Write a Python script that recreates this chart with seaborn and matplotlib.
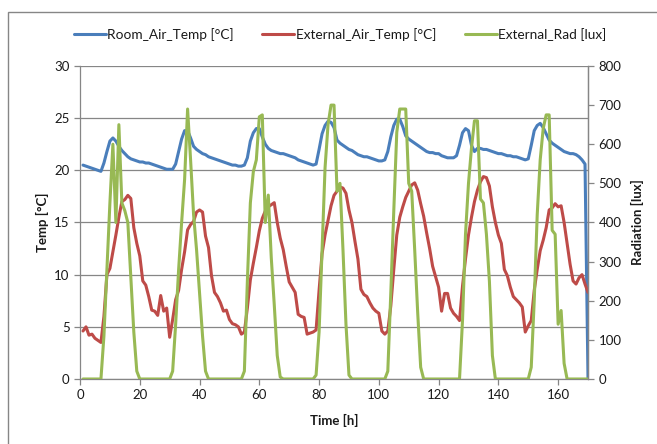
import pandas as pd
import seaborn as sns
import matplotlib.pyplot as plt
from matplotlib.patches import Rectangle

# hourly readings, t = 1..170 h
time_h = list(range(1, 171))

room_air_temp = [
    20.5, 20.4, 20.3, 20.2, 20.1, 20.0, 19.9, 20.7, 21.8, 22.8,
    23.1, 22.8, 22.3, 21.9, 21.6, 21.3, 21.1, 21.0, 20.9, 20.8,
    20.8, 20.7, 20.7, 20.6, 20.5, 20.4, 20.3, 20.2, 20.1, 20.1,
    20.1, 20.6, 21.8, 23.0, 23.8, 23.8, 23.1, 22.3, 22.0, 21.8,
    21.6, 21.5, 21.3, 21.2, 21.1, 21.0, 20.9, 20.8, 20.7, 20.6,
    20.5, 20.5, 20.4, 20.4, 20.5, 21.2, 22.8, 23.6, 24.0, 24.0,
    23.2, 22.5, 22.1, 21.9, 21.8, 21.7, 21.6, 21.6, 21.5, 21.4,
    21.3, 21.2, 21.0, 20.9, 20.8, 20.7, 20.6, 20.5, 20.6, 22.0,
    23.5, 24.3, 24.7, 24.6, 24.1, 22.9, 22.6, 22.4, 22.2, 22.0,
    21.9, 21.7, 21.5, 21.4, 21.3, 21.3, 21.2, 21.1, 21.0, 20.9,
    20.9, 21.0, 21.8, 23.2, 24.3, 24.9, 24.9, 24.2, 23.3, 23.0,
    22.8, 22.6, 22.4, 22.2, 22.0, 21.8, 21.7, 21.7, 21.6, 21.6,
    21.4, 21.3, 21.2, 21.2, 21.2, 21.4, 22.4, 23.6, 24.0, 23.8,
    22.4, 21.8, 22.1, 22.1, 22.0, 22.0, 21.9, 21.8, 21.7, 21.6,
    21.6, 21.5, 21.4, 21.4, 21.3, 21.3, 21.2, 21.1, 21.0, 21.1,
    22.4, 23.8, 24.3, 24.5, 24.1, 23.5, 22.9, 22.6, 22.4, 22.2,
    22.0, 21.8, 21.7, 21.6, 21.6, 21.5, 21.3, 21.0, 20.6, 0.0,
]

external_air_temp = [
    4.6, 5.0, 4.2, 4.3, 3.9, 3.7, 3.5, 6.0, 10.0, 10.6,
    12.2, 13.8, 15.5, 17.0, 17.2, 17.6, 17.3, 14.5, 13.0, 11.8,
    9.4, 9.0, 7.9, 6.6, 6.5, 6.1, 8.0, 6.5, 6.8, 4.0,
    5.7, 7.6, 8.5, 10.5, 12.2, 14.3, 14.8, 15.1, 16.0, 16.2,
    16.0, 13.7, 12.6, 9.9, 8.3, 7.9, 7.3, 6.5, 6.6, 5.7,
    5.3, 5.2, 5.0, 4.3, 4.5, 6.8, 9.5, 11.1, 12.6, 14.2,
    15.4, 16.1, 16.5, 16.7, 16.9, 15.0, 13.5, 12.4, 10.8, 9.3,
    8.8, 8.3, 6.2, 6.0, 5.9, 4.3, 4.4, 4.5, 4.7, 8.5,
    12.0, 13.8, 15.2, 16.6, 17.6, 18.0, 18.4, 18.3, 17.8, 16.2,
    15.0, 13.2, 11.5, 8.6, 8.1, 7.9, 7.3, 6.8, 6.5, 6.3,
    4.6, 4.3, 4.6, 7.0, 10.5, 13.8, 15.5, 16.5, 17.4, 18.0,
    18.6, 18.8, 18.1, 16.8, 15.6, 14.0, 12.5, 10.8, 9.8, 8.8,
    6.5, 8.2, 8.2, 6.8, 6.3, 6.0, 5.6, 8.9, 11.5, 13.8,
    15.5, 17.0, 18.1, 18.9, 19.4, 19.3, 18.5, 16.5, 15.0, 13.8,
    13.0, 10.5, 9.9, 8.8, 7.9, 7.6, 7.3, 6.9, 4.5, 5.1,
    5.6, 8.5, 10.5, 12.3, 13.3, 14.5, 16.2, 16.4, 16.8, 16.5,
    16.6, 15.0, 13.0, 11.0, 9.4, 9.1, 9.7, 10.0, 9.1, 8.3,
]

external_rad = [
    0, 0, 0, 0, 0, 0, 0, 110, 280, 450,
    600, 400, 650, 450, 430, 400, 260, 120, 20, 0,
    0, 0, 0, 0, 0, 0, 0, 0, 0, 0,
    20, 140, 280, 400, 510, 690, 560, 420, 330, 220,
    110, 20, 0, 0, 0, 0, 0, 0, 0, 0,
    0, 0, 0, 0, 20, 250, 450, 530, 560, 670,
    675, 400, 470, 310, 190, 60, 5, 0, 0, 0,
    0, 0, 0, 0, 0, 0, 0, 0, 10, 120,
    330, 540, 650, 700, 700, 480, 500, 330, 140, 10,
    0, 0, 0, 0, 0, 0, 0, 0, 0, 0,
    0, 0, 20, 220, 430, 630, 690, 690, 690, 500,
    480, 330, 170, 30, 0, 0, 0, 0, 0, 0,
    0, 0, 0, 0, 0, 0, 0, 150, 370, 500,
    590, 660, 660, 460, 450, 370, 250, 60, 0, 0,
    0, 0, 0, 0, 0, 0, 0, 0, 0, 0,
    30, 200, 420, 560, 640, 675, 675, 380, 370, 140,
    175, 40, 0, 0, 0, 0, 0, 0, 0, 0,
]

df = pd.DataFrame({
    "time": time_h,
    "room": room_air_temp,
    "ext": external_air_temp,
    "rad": external_rad,
})

sns.set_style("white")
plt.rcParams['font.family'] = ['Lato', 'DejaVu Sans']

grey = "#868686"
txt = "#1a1a1a"
blue, red, green = "#4A7EBB", "#BE4B48", "#98B954"

fig = plt.figure(figsize=(6.57, 4.44), dpi=100)
ax = fig.add_axes([0.1218, 0.1464, 0.7732, 0.705])
ax2 = ax.twinx()

sns.lineplot(data=df, x="time", y="room", ax=ax, color=blue, lw=2.2, legend=False)
sns.lineplot(data=df, x="time", y="ext", ax=ax, color=red, lw=2.2, legend=False)
sns.lineplot(data=df, x="time", y="rad", ax=ax2, color=green, lw=2.2, legend=False)

ax.set_xlim(0, 170)
ax.set_ylim(0, 30)
ax2.set_ylim(0, 800)
ax.set_xticks(range(0, 161, 20))
ax.set_yticks(range(0, 31, 5))
ax2.set_yticks(range(0, 801, 100))

ax.yaxis.grid(True, color=grey, lw=0.9)
ax.xaxis.grid(False)
ax.set_axisbelow(True)

for a in (ax, ax2):
    for s in a.spines.values():
        s.set_color(grey)
        s.set_linewidth(0.9)
    a.spines["top"].set_visible(False)
ax2.spines["left"].set_visible(False)
ax2.spines["bottom"].set_visible(False)

ax.tick_params(axis="both", direction="out", length=4, color=grey, width=0.9,
               labelsize=9.5, labelcolor=txt, bottom=True, left=True)
ax2.tick_params(axis="y", direction="out", length=4, color=grey, width=0.9,
                labelsize=9.5, labelcolor=txt, right=True)

ax.set_xlabel("Time [h]", fontsize=9.5, fontweight="bold", color=txt, labelpad=9)
ax.set_ylabel("Temp [°C]", fontsize=9.5, fontweight="bold", color=txt)
ax2.set_ylabel("Radiation [lux]", fontsize=9.5, fontweight="bold", color=txt, labelpad=7)

# legend across the top, as in the spreadsheet chart
handles = [plt.Line2D([], [], color=c, lw=2.2) for c in (blue, red, green)]
labels = ["Room_Air_Temp [°C]", "External_Air_Temp [°C]", "External_Rad [lux]"]
fig.legend(handles, labels, loc="center", bbox_to_anchor=(0.5175, 0.923), ncol=3,
           frameon=False, handlelength=2.35, handletextpad=0.1, columnspacing=2.1,
           fontsize=9.8, labelcolor=txt)

# chart-area border
fig.patches.append(Rectangle((0.012, -0.1), 2, 1.073, transform=fig.transFigure,
                             fill=False, edgecolor=grey, lw=1))

fig.savefig("out.png", dpi=100)
